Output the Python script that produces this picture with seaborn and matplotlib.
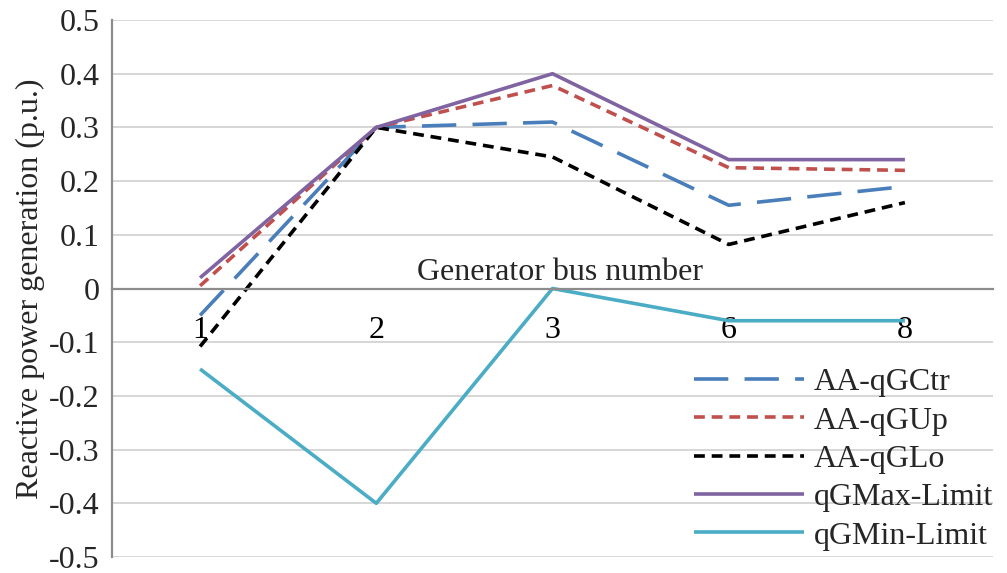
import matplotlib
matplotlib.use("Agg")
import matplotlib.pyplot as plt
import seaborn as sns
import pandas as pd
import numpy as np

buses = ["1", "2", "3", "6", "8"]
qg_ctr = [-0.05, 0.30, 0.31, 0.155, 0.19]
qg_up = [0.005, 0.30, 0.378, 0.225, 0.22]
qg_lo = [-0.108, 0.30, 0.245, 0.082, 0.16]
qg_max = [0.02, 0.30, 0.40, 0.24, 0.24]
qg_min = [-0.15, -0.40, 0.00, -0.06, -0.06]
y_ticks = [-0.5, -0.4, -0.3, -0.2, -0.1, 0, 0.1, 0.2, 0.3, 0.4, 0.5]
y_labels = ["-0.5", "-0.4", "-0.3", "-0.2", "-0.1", "0", "0.1", "0.2", "0.3", "0.4", "0.5"]

sns.set_style("white")
plt.rcParams["font.family"] = ["Liberation Serif", "DejaVu Serif"]
FS = 23

fig = plt.figure(figsize=(10.07, 5.73), dpi=100)
ax = fig.add_axes([112 / 1007, 1 - 557 / 573, (993 - 112) / 1007, (557 - 20) / 573])

series = [
    ("AA-qGCtr", qg_ctr, "#4A7EBB", (9.5, 4.5)),
    ("AA-qGUp", qg_up, "#C0504D", (3.0, 1.9)),
    ("AA-qGLo", qg_lo, "#000000", (3.0, 1.9)),
    ("qGMax-Limit", qg_max, "#8064A2", None),
    ("qGMin-Limit", qg_min, "#4BACC6", None),
]
for name, vals, col, dash in series:
    df = pd.DataFrame({"bus": buses, "q": vals})
    sns.lineplot(data=df, x="bus", y="q", ax=ax, color=col, lw=2.6, label=name,
                 sort=False)
    line = ax.get_lines()[-1]
    if dash is not None:
        line.set_dashes(dash)
    line.set_solid_capstyle("butt")

ax.set_xlim(-0.5, 4.5)
ax.set_ylim(-0.5, 0.5)
ax.set_yticks(y_ticks)
ax.set_yticklabels(y_labels)
ax.yaxis.grid(True, color="#D0D0D0", lw=1.2)
ax.set_axisbelow(True)

for s in ["top", "right"]:
    ax.spines[s].set_visible(False)
ax.spines["left"].set_color("#8C8C8C")
ax.spines["left"].set_linewidth(1.6)
ax.spines["bottom"].set_position(("data", 0))
ax.spines["bottom"].set_color("#8C8C8C")
ax.spines["bottom"].set_linewidth(1.6)

ax.set_xticks(range(len(buses)))
ax.set_xticklabels(buses)
ax.tick_params(axis="x", which="major", length=0, pad=20, labelsize=FS, colors="black")
ax.set_xticks([-0.5, 0.5, 1.5, 2.5, 3.5, 4.5], minor=True)
ax.tick_params(axis="x", which="minor", length=7, width=1.6, color="#8C8C8C", direction="out")
ax.tick_params(axis="y", length=7, width=1.6, color="#8C8C8C", direction="out",
               labelsize=FS, pad=2)

ax.set_xlabel("")
ax.set_ylabel("Reactive power generation (p.u.)", fontsize=FS)
ax.yaxis.set_label_coords(-0.076, 0.5)
ax.text(2.045, 0.003, "Generator bus number", ha="center", va="bottom", fontsize=FS)

leg = ax.legend(loc="lower right", bbox_to_anchor=(1.0, 0.012), frameon=False,
                fontsize=FS, handlelength=3.45, labelspacing=0.28, handletextpad=0.3,
                borderaxespad=0.0, borderpad=0.0)

fig.savefig("out.png", dpi=100)
